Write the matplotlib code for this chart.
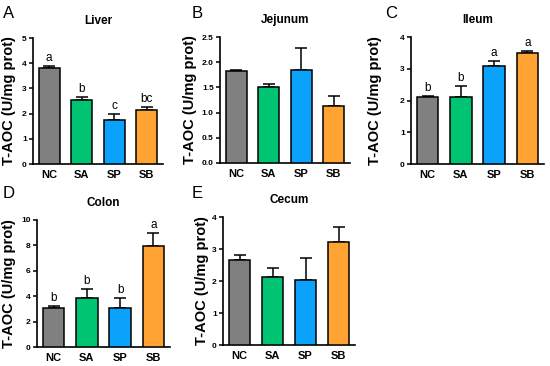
import numpy as np
import matplotlib
matplotlib.use("Agg")
import matplotlib.pyplot as plt

plt.rcParams['font.family'] = ['Liberation Sans', 'DejaVu Sans']

groups = ['NC', 'SA', 'SP', 'SB']
colors = ['#808080', '#00c472', '#0aa2fa', '#ffa333']

liver = [3.82, 2.55, 1.73, 2.13]
liver_err = [0.08, 0.11, 0.25, 0.14]
liver_sig = ['a', 'b', 'c', 'bc']

jejunum = [1.83, 1.51, 1.85, 1.14]
jejunum_err = [0.02, 0.05, 0.43, 0.18]

ileum = [2.10, 2.12, 3.08, 3.50]
ileum_err = [0.03, 0.33, 0.17, 0.06]
ileum_sig = ['b', 'b', 'a', 'a']

colon = [3.10, 3.82, 3.05, 7.95]
colon_err = [0.12, 0.72, 0.78, 1.05]
colon_sig = ['b', 'b', 'b', 'a']

cecum = [2.65, 2.12, 2.03, 3.23]
cecum_err = [0.15, 0.30, 0.68, 0.47]

W, H = 550, 366
fig = plt.figure(figsize=(5.5, 3.66), dpi=100)


def panel(box, letter, letter_xy, title, vals, errs, sig, ymax, yticks, ticklabels, ylab_x):
    x0, y0, x1, y1 = box  # pixel coords (left, top, right, bottom)
    ax = fig.add_axes([x0 / W, 1 - y1 / H, (x1 - x0) / W, (y1 - y0) / H])
    x = np.arange(len(groups))
    ax.bar(x, vals, width=0.65, color=colors, edgecolor='black', linewidth=1.1, zorder=3)
    ax.errorbar(x, vals, yerr=[np.zeros(len(vals)), errs], fmt='none', ecolor='black',
                elinewidth=1.1, capsize=4.5, capthick=1.1, zorder=2)
    if sig:
        for xi, v, e, s in zip(x, vals, errs, sig):
            ax.text(xi, v + e + ymax * 0.015, s, ha='center', va='bottom', fontsize=8.5)
    ax.set_xlim(-0.5, 3.5)
    ax.set_ylim(0, ymax)
    ax.set_yticks(yticks)
    ax.set_yticklabels(ticklabels, fontsize=6, fontweight='bold')
    ax.set_xticks(x)
    ax.set_xticklabels(groups, fontsize=8, fontweight='bold')
    ax.tick_params(axis='x', length=0, pad=4)
    ax.tick_params(axis='y', length=3, width=1.1, pad=1.5)
    for s in ['top', 'right']:
        ax.spines[s].set_visible(False)
    for s in ['left', 'bottom']:
        ax.spines[s].set_linewidth(1.2)
    ax.set_title(title, fontsize=8.5, fontweight='bold', pad=10)
    # label baseline sits at ylab_x (pixels)
    ax.set_ylabel('T-AOC (U/mg prot)', fontsize=10.5, fontweight='bold')
    ax.yaxis.set_label_coords((ylab_x - x0) / (x1 - x0), 0.5)
    fig.text(letter_xy[0] / W, 1 - letter_xy[1] / H, letter, fontsize=12, ha='left', va='center')
    return ax


panel((33, 38, 163, 164), 'A', (3, 13), 'Liver', liver, liver_err, liver_sig, 5,
      [0, 1, 2, 3, 4, 5], ['0', '1', '2', '3', '4', '5'], 16)
panel((220, 37, 350, 163), 'B', (192, 13), 'Jejunum', jejunum, jejunum_err, None, 2.5,
      [0, 0.5, 1.0, 1.5, 2.0, 2.5], ['0.0', '0.5', '1.0', '1.5', '2.0', '2.5'], 197)
panel((411, 37, 544, 164), 'C', (385, 13), 'Ileum', ileum, ileum_err, ileum_sig, 4,
      [0, 1, 2, 3, 4], ['0', '1', '2', '3', '4'], 382)
panel((37, 220, 170, 347), 'D', (3, 194), 'Colon', colon, colon_err, colon_sig, 10,
      [0, 2, 4, 6, 8, 10], ['0', '2', '4', '6', '8', '10'], 16)
panel((223, 217, 355, 345), 'E', (192, 194), 'Cecum', cecum, cecum_err, None, 4,
      [0, 1, 2, 3, 4], ['0', '1', '2', '3', '4'], 209)

fig.savefig('out.png', dpi=100)
